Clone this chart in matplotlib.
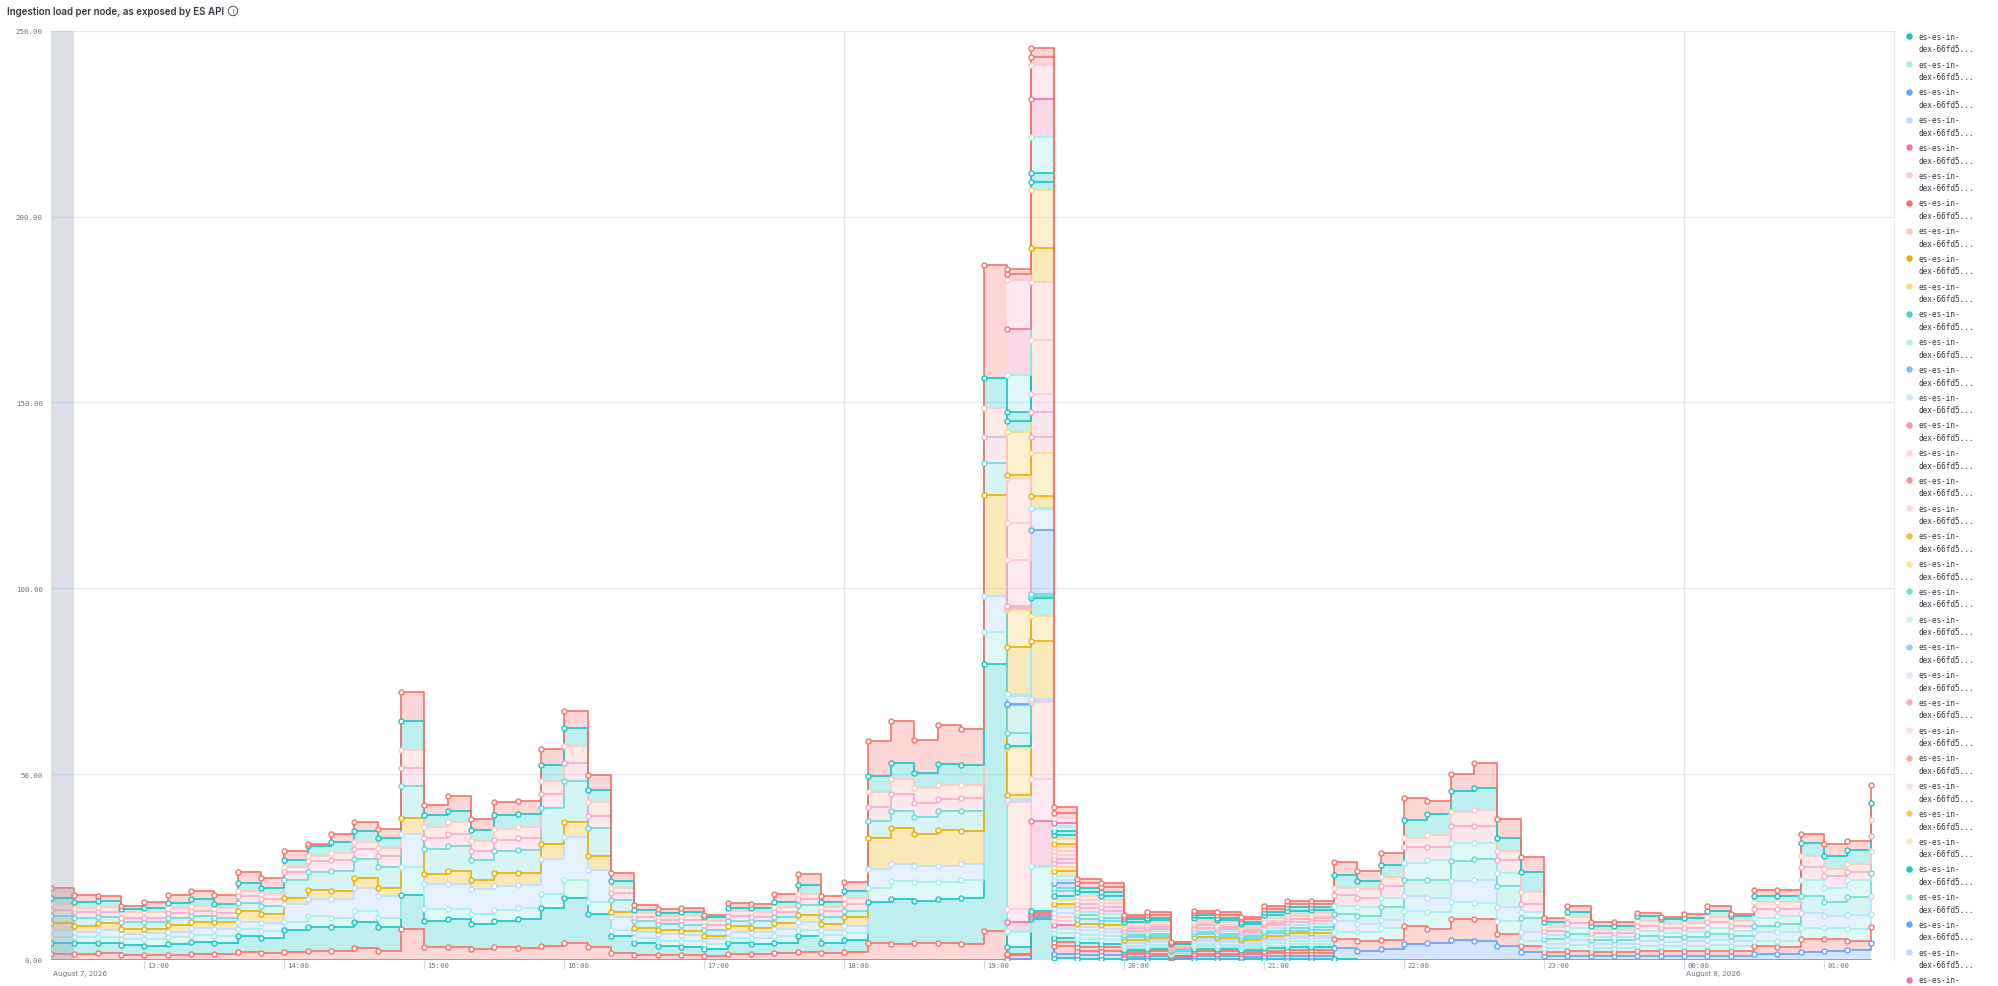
import numpy as np
import pandas as pd
import matplotlib
matplotlib.use("Agg")
import matplotlib.pyplot as plt
import matplotlib.dates as mdates
from matplotlib.transforms import offset_copy
from matplotlib.colors import to_rgb
from matplotlib.lines import Line2D

# 10 minute buckets, Aug 7 12:20 -> Aug 8 01:20
times = pd.date_range("2026-08-07 12:20", "2026-08-08 01:20", freq="10min")

# colours (elastic palette)
teal = "#16C5C0"
lteal = "#A6EDEA"
mteal = "#68D9D6"
blue = "#61A2FF"
lblue = "#BFDBFF"
pink = "#EE72A6"
mpink = "#F5AACA"
lpink = "#FFC7DB"
red = "#F6726A"
lred = "#FFC9C2"
yellow = "#EAAE01"
lyellow = "#FCD883"

# node at the bottom of the stack (mostly zero)
base_teal = [0, 0, 0, 0, 0, 0, 0, 0, 0, 0, 0, 0, 0, 0, 0, 0, 0, 0, 0, 0,
             0, 0, 0, 0, 0, 0, 0, 0, 0, 0, 0, 0, 0, 0, 0, 0, 0, 0, 0, 0,
             0, 0, 11.1, 0.5, 0.4, 0.4, 0.4, 0.4, 0.4, 0.4, 0.4, 0.4, 0.4, 0.4,
             0.4, 0.4, 0, 0, 0, 0, 0, 0, 0, 0, 0, 0, 0, 0, 0, 0, 0, 0, 0, 0,
             0, 0, 0, 0, 0]

# old nodes, 12:20 -> 21:20
a_start = 0
a1 = [1.6, 1.6, 1.8, 1.3, 1.3, 1.3, 1.6, 1.6, 2.1, 1.8, 2.1, 2.5, 2.5, 3.1, 2.5, 8.3, 3.4, 3.4, 3.0, 3.4,
      3.3, 3.9, 4.6, 3.5, 1.9, 1.3, 1.3, 1.3, 1.2, 1.6, 1.5, 1.8, 2.1, 1.8, 2.1, 4.7, 4.3, 4.7, 4.7, 4.2,
      7.9, 1.0, 0.5, 2.0, 1.2, 1.1, 0.6, 0.7, 0.3, 0.7, 0.7, 0.6, 0.7, 0.8, 0.8]
a2 = [2.9, 2.9, 2.7, 2.7, 2.6, 2.9, 3.3, 3.1, 4.3, 4.1, 6.0, 6.5, 6.3, 7.2, 6.5, 9.2, 7.0, 7.5, 6.7, 7.0,
      7.6, 10.2, 12.2, 9.0, 4.6, 3.2, 2.6, 2.1, 1.8, 3.0, 2.8, 2.9, 4.3, 2.9, 3.3, 11.0, 12.1, 11.2, 11.7, 12.5,
      71.8, 1.8, 0.5, 1.2, 1.0, 1.0, 0.5, 0.6, 0.2, 0.6, 0.6, 0.5, 0.7, 0.7, 0.7]
a3 = [1.6, 1.6, 1.8, 1.6, 1.7, 1.9, 1.8, 1.8, 1.9, 2.0, 2.0, 2.9, 2.4, 3.0, 2.4, 7.4, 3.3, 2.8, 2.7, 3.0,
      3.0, 3.6, 4.8, 3.0, 1.7, 1.4, 1.3, 1.6, 1.3, 1.2, 1.5, 1.8, 1.8, 2.0, 1.9, 3.8, 4.9, 5.0, 4.5, 4.8,
      8.6, 4.0, 12.0, 1.3, 1.1, 1.0, 0.6, 0.6, 0.2, 0.7, 0.6, 0.6, 0.7, 0.8, 0.8]
a4 = [2.0, 1.5, 1.8, 1.4, 1.6, 1.5, 1.8, 1.8, 2.0, 2.1, 5.0, 4.5, 5.2, 6.2, 5.7, 9.0, 6.7, 6.7, 6.7, 6.6,
      6.3, 9.5, 11.6, 8.8, 3.3, 1.5, 1.7, 1.7, 1.3, 1.8, 1.6, 1.8, 2.1, 1.5, 1.9, 5.1, 4.5, 4.5, 4.5, 4.4,
      9.6, 0.5, 0.3, 1.1, 1.3, 1.2, 0.7, 0.7, 0.3, 0.7, 0.7, 0.6, 0.7, 0.8, 0.8]
a5 = [1.8, 1.5, 1.8, 1.3, 1.1, 1.8, 1.8, 1.8, 3.0, 2.4, 1.7, 2.4, 2.2, 2.5, 2.2, 4.4, 2.7, 3.5, 2.3, 3.3,
      3.1, 4.0, 3.8, 3.7, 1.5, 1.3, 1.3, 1.2, 0.9, 1.5, 1.3, 1.6, 1.8, 1.5, 2.3, 8.2, 9.6, 8.5, 9.5, 8.8,
      27.3, 1.2, 15.8, 1.2, 1.0, 1.0, 0.5, 0.6, 0.2, 0.6, 0.6, 0.5, 0.6, 0.7, 0.7]
a6 = [2.0, 2.3, 1.7, 1.8, 1.8, 1.8, 1.6, 1.1, 2.0, 2.0, 4.7, 4.9, 5.4, 5.2, 5.6, 8.6, 6.7, 6.9, 5.5, 5.9,
      6.4, 9.6, 11.2, 7.4, 3.1, 1.8, 1.5, 1.6, 1.7, 1.5, 1.9, 1.8, 2.7, 1.8, 1.8, 4.5, 4.7, 4.5, 5.3, 5.3,
      8.4, 3.5, 0.5, 1.2, 1.2, 1.1, 0.6, 0.6, 0.2, 0.7, 0.6, 0.6, 0.7, 0.7, 0.8]
a7 = [1.5, 1.4, 1.2, 1.3, 1.2, 1.4, 1.4, 1.4, 1.8, 2.0, 2.1, 2.8, 2.9, 2.6, 3.1, 4.7, 3.1, 3.1, 2.3, 3.0,
      3.1, 3.8, 4.8, 3.4, 1.8, 1.2, 1.1, 1.3, 1.2, 1.3, 1.1, 1.1, 1.6, 1.8, 1.8, 3.9, 4.5, 3.8, 3.2, 3.6,
      7.2, 0.5, 4.3, 1.1, 1.1, 1.0, 0.6, 0.6, 0.2, 0.6, 0.6, 0.5, 0.7, 0.8, 0.8]
a8 = [1.6, 1.3, 1.4, 1.4, 1.5, 1.3, 1.3, 1.4, 1.5, 1.3, 1.3, 1.5, 2.0, 2.0, 2.0, 4.9, 2.8, 3.1, 2.7, 3.0,
      3.1, 3.6, 4.6, 3.6, 1.6, 0.9, 1.1, 1.1, 1.2, 1.4, 1.3, 1.4, 1.3, 0.9, 1.7, 3.9, 4.1, 4.0, 3.8, 3.4,
      7.8, 10.0, 14.4, 1.0, 1.0, 1.0, 0.5, 0.6, 0.2, 0.6, 0.6, 0.5, 0.6, 0.7, 0.7]
a9 = [1.6, 1.4, 1.7, 0.9, 1.1, 1.3, 1.8, 1.1, 2.0, 1.8, 2.0, 2.6, 2.9, 3.0, 2.7, 7.9, 3.3, 3.2, 3.1, 3.9,
      3.3, 4.3, 4.9, 3.4, 1.7, 0.9, 0.7, 0.9, 0.9, 0.8, 1.1, 1.5, 2.5, 1.3, 1.8, 4.3, 4.4, 4.0, 5.4, 5.4,
      8.0, 3.0, 2.0, 1.2, 1.2, 1.1, 0.6, 0.6, 0.2, 0.7, 0.6, 0.6, 0.7, 0.8, 0.8]
a10 = [2.9, 2.0, 1.4, 0.7, 1.8, 2.3, 2.2, 2.4, 3.0, 2.5, 2.5, 0.6, 2.1, 2.2, 2.5, 7.6, 2.7, 3.8, 2.9, 3.4,
       3.5, 4.2, 4.5, 4.0, 2.2, 1.4, 1.1, 1.3, 0.6, 1.1, 1.0, 2.0, 2.9, 1.8, 2.3, 9.6, 11.2, 9.0, 10.5, 9.8,
       30.5, 1.5, 2.3, 1.5, 1.3, 1.2, 0.6, 0.7, 0.3, 0.7, 0.7, 0.6, 0.8, 0.8, 0.8]

# short lived nodes during the spike, 19:10 -> 19:30
m_start = 41
m1 = [2.6, 11.9, 1.0]
m2 = [3.5, 11.3, 1.2]
m3 = [28.6, 20.9, 1.1]
m4 = [12.6, 6.7, 1.0]
m5 = [0.5, 4.8, 1.2]
m6 = [0.5, 17.2, 1.1]
m7 = [2.0, 5.6, 1.0]
m8 = [12.7, 3.2, 1.2]
m9 = [10.0, 11.6, 1.0]
m10 = [12.4, 4.9, 1.1]
m11 = [1.0, 9.3, 1.0]
m12 = [11.4, 15.6, 1.2]
m13 = [10.1, 9.7, 1.1]
m14 = [12.4, 10.3, 1.0]
m15 = [13.2, 9.0, 1.2]

# new nodes, 19:10 -> 01:20
d_start = 41
d1 = [0.3, 0.5, 1.2, 0.9, 0.9, 0.5, 0.6, 0.2, 0.6, 0.6, 0.5, 0.7, 0.8, 0.8,
      2.7, 2.5, 3.0, 4.3, 4.7, 5.5, 5.2, 3.7, 2.1, 1.2, 1.2, 1.2, 1.2, 1.2, 1.2, 1.2, 1.2, 1.2, 1.6, 1.6, 2.2, 2.5, 2.7, 4.5]
d2 = [0.3, 0.5, 1.1, 1.1, 1.0, 0.6, 0.6, 0.2, 0.7, 0.6, 0.6, 0.7, 0.8, 0.8,
      2.5, 2.7, 2.5, 4.9, 3.6, 5.4, 5.8, 3.3, 1.8, 0.9, 1.3, 1.0, 1.0, 1.3, 1.3, 1.3, 1.3, 1.3, 2.3, 1.8, 3.5, 3.2, 2.5, 4.3]
d3 = [0.3, 0.3, 1.0, 1.0, 1.0, 0.6, 0.6, 0.2, 0.6, 0.6, 0.5, 0.7, 0.7, 0.7,
      2.0, 2.2, 3.0, 4.1, 4.5, 4.8, 4.3, 3.6, 1.3, 1.2, 1.5, 1.1, 1.0, 1.3, 1.2, 1.2, 1.5, 1.3, 1.3, 1.8, 2.8, 2.8, 3.1, 3.6]
d4 = [0.3, 0.3, 1.2, 0.8, 0.8, 0.5, 0.5, 0.2, 0.6, 0.5, 0.5, 0.6, 0.7, 0.7,
      3.0, 2.3, 2.3, 4.0, 3.8, 5.6, 6.1, 3.7, 2.2, 1.1, 1.5, 1.0, 1.1, 1.4, 1.2, 1.3, 1.5, 1.3, 2.3, 2.3, 4.1, 3.3, 3.9, 4.7]
d5 = [7.5, 0.5, 1.0, 1.0, 0.9, 0.6, 0.6, 0.2, 0.6, 0.6, 0.6, 0.7, 0.8, 0.8,
      1.8, 2.2, 3.4, 4.2, 4.9, 5.2, 5.8, 5.7, 3.8, 1.2, 1.5, 1.0, 1.0, 1.3, 1.2, 1.3, 1.6, 1.4, 1.7, 2.2, 4.5, 3.7, 4.7, 6.3]
d6 = [0.5, 0.5, 1.1, 0.9, 0.9, 0.6, 0.6, 0.3, 0.6, 0.6, 0.5, 0.7, 0.8, 0.8,
      2.2, 2.3, 2.5, 4.6, 5.4, 5.1, 4.4, 3.3, 1.6, 1.0, 1.5, 1.0, 1.0, 1.4, 1.2, 1.2, 1.5, 1.3, 2.0, 2.2, 4.4, 3.8, 4.5, 5.9]
d7 = [0.5, 6.6, 1.2, 1.1, 1.0, 0.6, 0.6, 0.2, 0.7, 0.6, 0.6, 0.7, 0.8, 0.8,
      3.0, 2.6, 3.1, 4.2, 3.6, 4.4, 4.4, 3.5, 2.3, 1.1, 1.5, 1.0, 1.0, 1.3, 1.2, 1.2, 1.5, 1.3, 2.5, 1.8, 3.5, 3.4, 2.4, 4.0]
d8 = [12.0, 15.6, 1.0, 1.0, 0.9, 0.6, 0.6, 0.3, 0.6, 0.6, 0.5, 0.7, 0.7, 0.7,
      1.8, 2.3, 2.4, 2.4, 3.1, 3.8, 4.3, 2.5, 3.3, 1.1, 1.5, 0.9, 0.9, 1.3, 1.2, 1.3, 1.5, 1.4, 1.8, 1.8, 3.1, 1.8, 2.1, 4.4]
d9 = [2.3, 2.5, 1.1, 1.2, 1.1, 0.7, 0.7, 0.2, 0.7, 0.7, 0.6, 0.8, 0.9, 0.9,
      3.4, 2.2, 3.3, 4.9, 5.6, 5.6, 6.1, 3.6, 5.2, 1.3, 1.5, 0.9, 0.9, 1.3, 1.2, 1.2, 1.5, 1.3, 1.6, 1.8, 3.3, 3.6, 3.7, 4.6]
d10 = [1.5, 2.3, 1.6, 1.0, 1.0, 0.6, 0.7, 0.2, 0.6, 0.7, 0.6, 0.8, 0.8, 0.8,
       3.5, 2.7, 3.3, 5.9, 3.6, 4.6, 6.5, 5.0, 4.0, 1.1, 1.4, 1.0, 1.0, 0.9, 0.6, 1.2, 1.5, 0.6, 1.8, 1.6, 2.4, 3.0, 2.5, 4.8]

# stacking order, bottom -> top
stack = [
    (base_teal, 0, teal),
    (d1, d_start, blue), (a1, a_start, red), (d2, d_start, red),
    (a2, a_start, teal), (a3, a_start, lteal), (d3, d_start, lteal),
    (m1, m_start, pink), (m2, m_start, lpink), (m3, m_start, lred),
    (a4, a_start, lblue), (d4, d_start, lblue), (a5, a_start, yellow),
    (m4, m_start, lyellow), (m5, m_start, teal),
    (a6, a_start, mteal), (d5, d_start, mteal),
    (m6, m_start, blue), (m7, m_start, lblue), (d6, d_start, lteal),
    (m8, m_start, yellow), (m9, m_start, lyellow),
    (a7, a_start, mpink), (d7, d_start, mpink), (m10, m_start, lpink),
    (a8, a_start, lred), (d8, d_start, lred),
    (m11, m_start, yellow), (m12, m_start, lyellow),
    (a9, a_start, teal), (d9, d_start, teal),
    (m13, m_start, lteal), (m14, m_start, pink), (m15, m_start, lpink),
    (a10, a_start, red), (d10, d_start, red),
]

legend_palette = [teal, lteal, blue, lblue, pink, lpink, red, lred, yellow, lyellow]
legend_count = 35

light = {lteal, lblue, lpink, lred, lyellow}


def tint(c, f):
    r, g, b = to_rgb(c)
    return (r + (1 - r) * f, g + (1 - g) * f, b + (1 - b) * f)


n = len(times)
x = mdates.date2num(times)
rows = []
for vals, start, col in stack:
    full = np.zeros(n)
    full[start:start + len(vals)] = vals
    rows.append(full)
rows = np.array(rows)
tops = np.cumsum(rows, axis=0)
bottoms = tops - rows

fig = plt.figure(figsize=(19.99, 9.87), dpi=100)
ax = fig.add_axes([51 / 1999, 1 - 961 / 987, (1894 - 51) / 1999, (961 - 31.7) / 987])

for k, (vals, start, col) in enumerate(stack):
    fa = 0.38 if col in light else 0.28
    ax.fill_between(x, bottoms[k], tops[k], step="post", color=col, alpha=fa, lw=0, zorder=1)

for k, (vals, start, col) in enumerate(stack):
    end = start + len(vals) - 1
    xs = x[start:min(end + 2, n)]
    ys = tops[k][start:min(end + 2, n)]
    ax.plot(xs, ys, drawstyle="steps-post", color=col, lw=1.2, zorder=2 + k * 0.01)
    idx = np.arange(start, end + 1)
    if k == 0:
        idx = idx[rows[k][idx] > 0]
    ax.plot(x[idx], tops[k][idx], "o", ms=3.6, mfc="white", mec=col, mew=1.0, ls="", zorder=3 + k * 0.01)

# partial bucket shading
ax.axvspan(times[0], times[1], color="#98a2b3", alpha=0.35, lw=0, zorder=5)

ax.set_xlim(times[0], times[-1] + pd.Timedelta(minutes=10))
ax.set_ylim(0, 250)

for s in ["top", "left", "bottom"]:
    ax.spines[s].set_visible(False)
ax.spines["right"].set_color("#e9ebf2")

ax.set_axisbelow(True)
ax.set_yticks(range(0, 251, 50))
ax.set_yticklabels([f"{v:.2f}" for v in range(0, 251, 50)])
ax.yaxis.grid(True, color="#e3e5ef", lw=0.8)
ax.tick_params(axis="y", length=0, pad=5.8, labelsize=5.3, labelcolor="#69707d")
for lab in ax.get_yticklabels():
    lab.set_fontfamily("DejaVu Sans Mono")

for t in ["2026-08-07 18:00", "2026-08-08 00:00"]:
    ax.axvline(pd.Timestamp(t), color="#e3e5ef", lw=0.8, zorder=0.5)

hours = pd.date_range("2026-08-07 13:00", "2026-08-08 01:00", freq="h")
ax.set_xticks(mdates.date2num(hours))
ax.tick_params(axis="x", length=6.5, width=0.8, color="#d3dae6", labelbottom=False, direction="out")
xt = offset_copy(ax.get_xaxis_transform(), fig=fig, x=3, y=-2, units="dots")
for h in hours:
    ax.text(h, 0, h.strftime("%H:%M"), transform=xt, ha="left", va="top",
            fontsize=5.2, family="DejaVu Sans Mono", color="#69707d")
dt = offset_copy(ax.get_xaxis_transform(), fig=fig, x=2, y=-10, units="dots")
ax.text(times[0], 0, "August 7, 2026", transform=dt, ha="left", va="top",
        fontsize=5.4, family="Inter", color="#69707d")
ax.text(pd.Timestamp("2026-08-08 00:00"), 0, "August 8, 2026", transform=dt, ha="left", va="top",
        fontsize=5.4, family="Inter", color="#69707d")

# title
fig.text(7 / 1999, 1 - 12 / 987, "Ingestion load per node, as exposed by ES API",
         ha="left", va="center", fontsize=7.0, fontweight="semibold", family="Inter", color="#343741")
fig.text(233 / 1999, 1 - 12 / 987, "i", ha="center", va="center", fontsize=5, family="Inter",
         color="#343741", bbox=dict(boxstyle="circle,pad=0.25", fc="none", ec="#343741", lw=0.6))

# legend (the list runs past the bottom of the panel)
for k in range(legend_count):
    y_px = 37.3 + 27.75 * k
    col = tint(legend_palette[k % 10], [0, 0.22, 0.4][(k // 10) % 3])
    fig.add_artist(Line2D([1909 / 1999], [1 - y_px / 987], marker="o", ms=3.6, color=col, ls="",
                          transform=fig.transFigure))
    fig.text(1919 / 1999, 1 - y_px / 987, "es-es-in-", ha="left", va="center", fontsize=5.6,
             family="DejaVu Sans Mono", color="#343741")
    if y_px + 12.7 + 5 < 987:
        fig.text(1919 / 1999, 1 - (y_px + 12.7) / 987, "dex-66fd5...", ha="left", va="center",
                 fontsize=5.6, family="DejaVu Sans Mono", color="#343741")

fig.savefig("out.png", dpi=100)
